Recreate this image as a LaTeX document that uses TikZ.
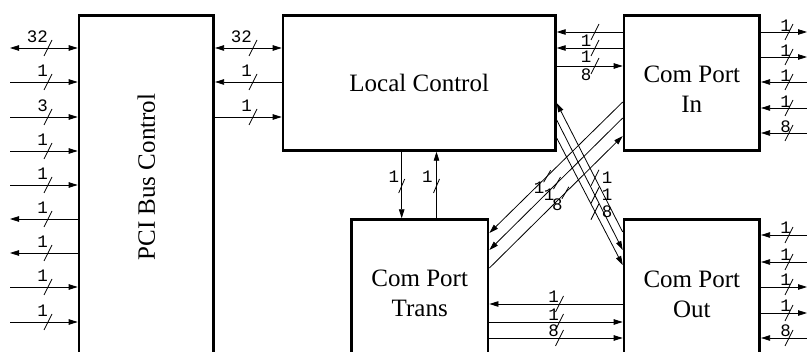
\documentclass[tikz,border=0pt]{standalone}
\usepackage{fontspec}
\setmainfont{Liberation Serif}
\setmonofont{Liberation Mono}
\usetikzlibrary{arrows.meta,calc}

\begin{document}
\begin{tikzpicture}[x=1pt,y=-1pt,font=\fontsize{25}{30}\selectfont,
    blk/.style={draw,line width=2.7pt,inner sep=0pt,anchor=north west},
    lbl/.style={align=center,inner sep=0pt},
    w/.style={line width=0.8pt,>={Triangle[length=9pt,width=5.5pt]}},
    fw/.style={->},bk/.style={<-},bi/.style={<->},
    sl/.style={line width=0.8pt},
    num/.style={font=\fontsize{17.5}{17.5}\selectfont\ttfamily,inner sep=0pt,anchor=base east}]
  \useasboundingbox (0,0) rectangle (808,352);
  % blocks, the lower ones run off the page
  \node[blk,minimum width=134.7pt,minimum height=400pt] (pci) at (77.7,14) {};
  \node[blk,minimum width=272.3pt,minimum height=135pt] (lc) at (281.7,14) {Local Control};
  \node[blk,minimum width=135.7pt,minimum height=135pt] (cpin) at (622.7,14) {};
  \node[blk,minimum width=136.7pt,minimum height=200pt] (trans) at (350,218.3) {};
  \node[blk,minimum width=135.7pt,minimum height=200pt] (out) at (622.7,218.3) {};
  \node[lbl,rotate=90] (pcit) at (146.3,177) {PCI Bus Control};
  \node[lbl] (cpint) at (691.8,89.3) {Com Port\\In};
  \node[lbl] (transt) at (419.7,293.8) {Com Port\\Trans};
  \node[lbl] (outt) at (691.8,294) {Com Port\\Out};
  % PCI bus pins
  \foreach \y/\lab/\ar [count=\i] in {48/32/bi,82/1/fw,117/3/fw,151/1/fw,185/1/fw,219/1/bk,253/1/bk,287/1/fw,322/1/fw}{
    \coordinate (pin\i) at (10,\y);
    \draw[w,\ar] (pin\i) -- (pin\i -| pci.west);
    \draw[sl] (48,\y) ++(-4,8) -- ++(8,-16);
    \node[num] (npin\i) at (48,\y-5) {\lab};
  }
  % PCI <-> local control
  \foreach \y/\lab/\ar [count=\i] in {48/32/bi,82/1/bk,117/1/fw}{
    \draw[w,\ar] (pci.east |- 0,\y) -- (lc.west |- 0,\y);
    \draw[sl] (253,\y) ++(-4,8) -- ++(8,-16);
    \node[num] (npl\i) at (252,\y-5) {\lab};
  }
  % local control <-> com port in
  \foreach \y/\lab/\ar [count=\i] in {32/1/bk,48/1/bk,66/8/fw}{
    \draw[w,\ar] (lc.east |- 0,\y) -- (cpin.west |- 0,\y);
    \draw[sl] (595,\y) ++(-4,8) -- ++(8,-16);
    \node[num] (nli\i) at (591.5,\y+15) {\lab};
  }
  % com port in pins
  \foreach \y/\lab/\ar [count=\i] in {32/1/fw,57/1/fw,82/1/bk,108/1/bk,133/8/bk}{
    \coordinate (ri\i) at (807,\y);
    \draw[w,\ar] (ri\i -| cpin.east) -- (ri\i);
    \draw[sl] (789,\y) ++(-4,8) -- ++(8,-16);
    \node[num] (nri\i) at (791,\y-0.5) {\lab};
  }
  % com port out pins
  \foreach \y/\lab/\ar [count=\i] in {235/1/bk,262/1/bk,287/1/fw,313/1/fw,338/8/bk}{
    \coordinate (ro\i) at (807,\y);
    \draw[w,\ar] (ro\i -| out.east) -- (ro\i);
    \draw[sl] (789,\y) ++(-4,8) -- ++(8,-16);
    \node[num] (nro\i) at (791,\y-1) {\lab};
  }
  % trans <-> out
  \foreach \y/\lab/\ar [count=\i] in {304/1/bk,322/1/fw,338/8/fw}{
    \draw[w,\ar] (trans.east |- 0,\y) -- (out.west |- 0,\y);
    \draw[sl] (559.5,\y) ++(-4,8) -- ++(8,-16);
    \node[num] (nto\i) at (559,\y-1) {\lab};
  }
  % local control <-> trans
  \foreach \x/\ar/\dx [count=\i] in {401.7/fw/2.5,436.5/bk/3.7}{
    \draw[w,\ar] (lc.south -| \x,0) -- (trans.north -| \x,0);
    \draw[sl] (\x,186) ++(-3,7) -- ++(6,-14);
    \node[num] (nv\i) at (\x-\dx,183) {1};
  }
  % cross links
  \foreach \ya/\yb/\ar/\lab/\p [count=\i] in {102/233/fw/1/0.567,118/250/fw/1/0.493,136/268/bk/8/0.43}{
    \draw[w,\ar] (cpin.west |- 0,\ya) -- coordinate[pos=\p] (sa\i) (trans.east |- 0,\yb);
    \draw[sl] (sa\i) ++(-3.5,6) -- ++(7,-12);
    \node[num] (nsa\i) at ($(sa\i)+(-2.5,17.5)$) {\lab};
  }
  \foreach \ya/\yb/\ar/\lab [count=\i] in {103/232/bk/1,120/250/fw/1,138/265/fw/8}{
    \draw[w,\ar] (lc.east |- 0,\ya) -- coordinate[pos=0.58] (sb\i) (out.west |- 0,\yb);
    \draw[sl] (sb\i) ++(-4,8) -- ++(8,-16);
    \node[num] (nsb\i) at ($(sb\i)+(17.5,5.5)$) {\lab};
  }
\end{tikzpicture}
\end{document}
